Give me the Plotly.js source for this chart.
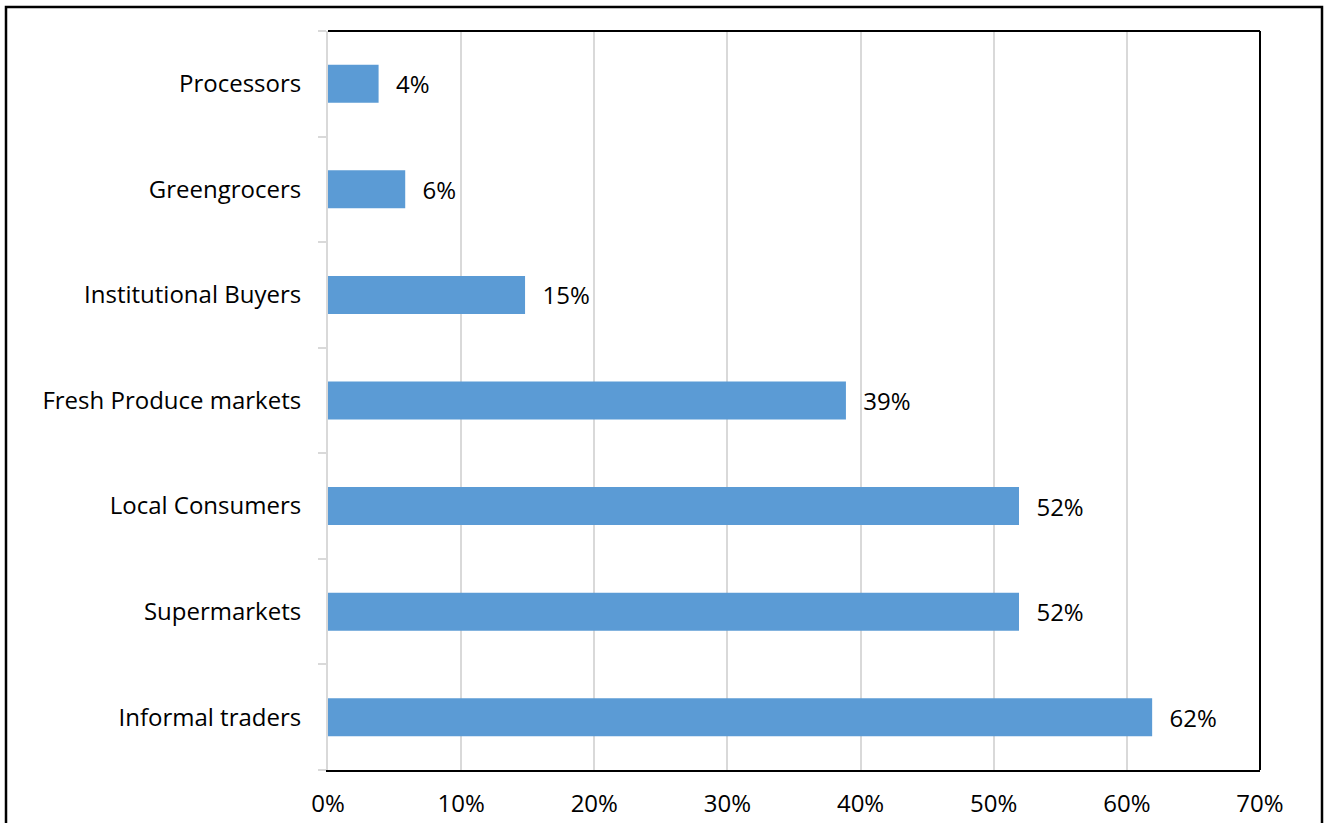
<!DOCTYPE html>
<html>
<head>
<meta charset="utf-8">
<script src="https://cdn.plot.ly/plotly-3.0.1.min.js"></script>
<style>
  html, body { margin: 0; padding: 0; background: #fff; }
  #chart { width: 1324px; height: 823px; }
</style>
</head>
<body>
<div id="chart"></div>
<script>
const categories = ["Informal traders", "Supermarkets", "Local Consumers", "Fresh Produce markets", "Institutional Buyers", "Greengrocers", "Processors"];
const shares = [0.619, 0.519, 0.519, 0.389, 0.148, 0.058, 0.038];
const xTickValues = [0, 0.1, 0.2, 0.3, 0.4, 0.5, 0.6, 0.7];
const xTickLabels = ["0%", "10%", "20%", "30%", "40%", "50%", "60%", "70%"];

const FONT = "'Open Sans', Lato, sans-serif";
const FS = 24;

const trace = {
  type: "bar",
  orientation: "h",
  y: categories,
  x: shares,
  marker: { color: "#5B9BD5" },
  text: shares.map(v => "\u2002\u200A" + Math.round(v * 100) + "%"),
  textposition: "outside",
  cliponaxis: false,
  textfont: { family: FONT, size: FS, color: "#000" },
  hoverinfo: "skip"
};

const plotL = 328, plotR = 1260, plotT = 31, plotB = 770;
const W = 1324, H = 823;
const pw = plotR - plotL, ph = plotB - plotT;
function px(x) { return (x - plotL) / pw; }
function py(y) { return (plotB - y) / ph; }

const layout = {
  width: W, height: H,
  margin: { l: plotL, r: W - plotR, t: plotT, b: H - plotB, pad: 0 },
  paper_bgcolor: "#fff",
  plot_bgcolor: "#fff",
  showlegend: false,
  bargap: 0.64,
  font: { family: FONT, size: FS, color: "#000" },
  xaxis: {
    range: [0, 0.7],
    tickvals: xTickValues,
    ticktext: xTickLabels,
    showgrid: true,
    gridcolor: "#d9d9d9",
    gridwidth: 2,
    zeroline: false,
    showline: true,
    linecolor: "#000",
    linewidth: 2,
    ticks: "",
    ticklabelstandoff: 11,
    tickfont: { family: FONT, size: FS, color: "#000" },
    fixedrange: true
  },
  yaxis: {
    type: "category",
    categoryorder: "array",
    categoryarray: categories,
    showline: true,
    linecolor: "#d9d9d9",
    linewidth: 2,
    ticks: "outside",
    tickson: "boundaries",
    ticklen: 8,
    tickwidth: 2,
    tickcolor: "#d9d9d9",
    showgrid: false,
    zeroline: false,
    ticklabelstandoff: 20,
    tickfont: { family: FONT, size: FS, color: "#000" },
    fixedrange: true
  },
  shapes: [
    { type: "line", xref: "paper", yref: "paper", x0: 0, x1: 1, y0: 1, y1: 1, line: { color: "#000", width: 2 } },
    { type: "line", xref: "paper", yref: "paper", x0: 1, x1: 1, y0: 0, y1: 1, line: { color: "#000", width: 2 } },
    { type: "rect", xref: "paper", yref: "paper", x0: px(6), x1: px(1322), y0: py(900), y1: py(7), line: { color: "#000", width: 2.5 }, fillcolor: "rgba(0,0,0,0)" }
  ]
};

Plotly.newPlot("chart", [trace], layout, { displayModeBar: false, staticPlot: true });
</script>
</body>
</html>
